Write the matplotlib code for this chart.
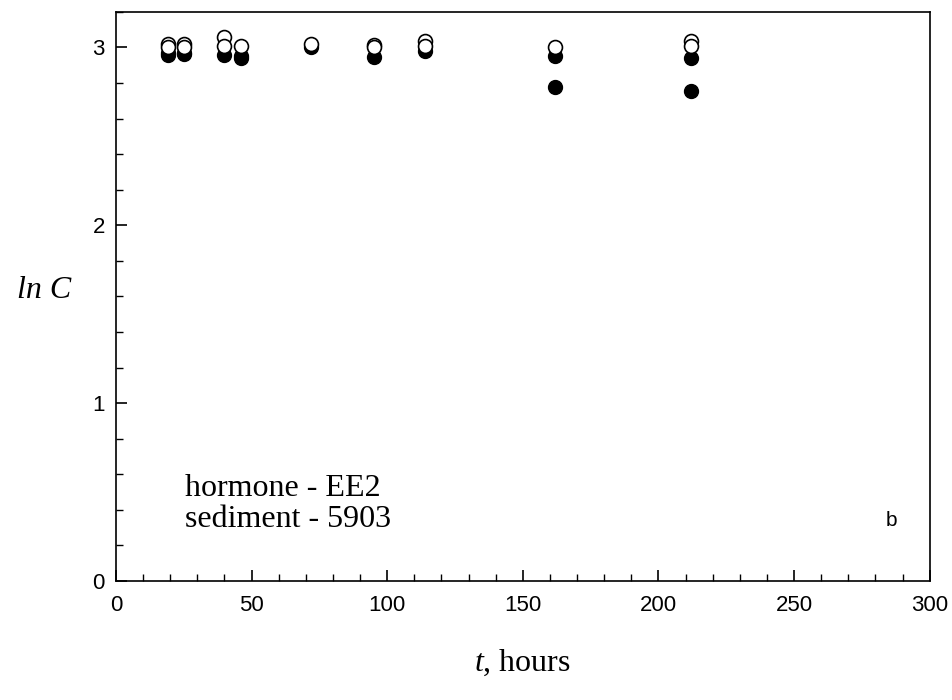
import matplotlib
matplotlib.use("Agg")
import matplotlib.pyplot as plt
from matplotlib.ticker import MultipleLocator

# sampling times (hours) and ln C readings, open and filled circles
t_open = [19, 19, 25, 25, 40, 40, 46, 72, 95, 95, 114, 114, 162, 212, 212]
lnc_open = [3.02, 3.0, 3.02, 3.0, 3.06, 3.01, 3.01, 3.02, 3.015, 3.0, 3.035, 3.01, 3.0, 3.035, 3.01]

t_filled = [19, 19, 25, 25, 40, 46, 46, 72, 95, 114, 162, 162, 212, 212]
lnc_filled = [2.97, 2.96, 2.97, 2.965, 2.955, 2.95, 2.94, 3.0, 2.945, 2.98, 2.95, 2.775, 2.94, 2.755]

plt.rcParams["font.family"] = ["Liberation Sans", "DejaVu Sans"]
plt.rcParams["mathtext.fontset"] = "custom"
plt.rcParams["mathtext.it"] = "Liberation Serif:italic"
plt.rcParams["mathtext.rm"] = "Liberation Serif"

fig = plt.figure(figsize=(9.53, 7.0), dpi=100)
ax = fig.add_axes([0.1217, 0.17, 0.8538, 0.813])

ax.plot(t_filled, lnc_filled, "o", color="black", markersize=10, zorder=2)
ax.plot(t_open, lnc_open, "o", markerfacecolor="white", markeredgecolor="black",
        markeredgewidth=1.2, markersize=10, zorder=3)

ax.set_xlim(0, 300)
ax.set_ylim(0, 3.2)
ax.xaxis.set_major_locator(MultipleLocator(50))
ax.xaxis.set_minor_locator(MultipleLocator(10))
ax.yaxis.set_major_locator(MultipleLocator(1))
ax.yaxis.set_minor_locator(MultipleLocator(0.2))
ax.tick_params(which="both", direction="in", top=False, right=False, labelsize=16)
ax.tick_params(axis="x", which="both", pad=10)
ax.tick_params(axis="y", which="both", pad=8)
ax.tick_params(which="major", length=8, width=1.2)
ax.tick_params(which="minor", length=5, width=1.0)
for s in ax.spines.values():
    s.set_linewidth(1.2)

ax.set_xlabel("$\\it{t}$, hours", family="Liberation Serif", fontsize=23, labelpad=23)
ax.text(-0.055, 0.51, "ln C", transform=ax.transAxes, family="Liberation Serif",
        style="italic", fontsize=23, ha="right", va="center")

ax.text(25.4, 0.435, "hormone - EE2\nsediment - 5903", family="Liberation Serif",
        fontsize=23, linespacing=1.1, va="center", ha="left")
ax.text(286, 0.34, "b", fontsize=15, ha="center", va="center")

fig.savefig("out.png", dpi=100)
